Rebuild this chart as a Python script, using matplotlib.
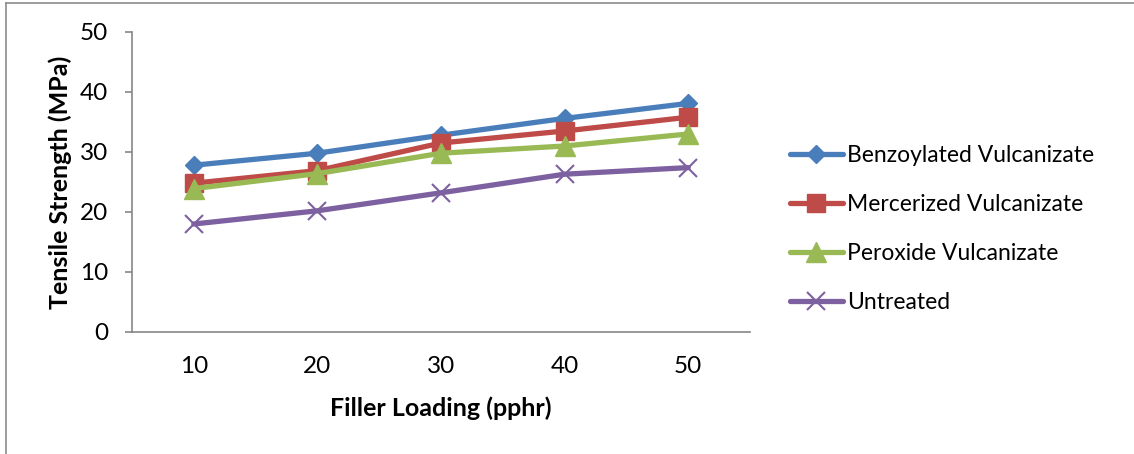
import matplotlib
matplotlib.use('Agg')
import matplotlib.pyplot as plt
from matplotlib.lines import Line2D

plt.rcParams['font.family'] = ['Lato', 'DejaVu Sans']

loading = ['10', '20', '30', '40', '50']
benzoylated = [27.8, 29.8, 32.8, 35.6, 38.1]
mercerized = [24.8, 26.9, 31.5, 33.5, 35.8]
peroxide = [23.9, 26.4, 29.8, 31.0, 33.0]
untreated = [18.0, 20.2, 23.2, 26.3, 27.4]

series = [
    ('Benzoylated Vulcanizate', benzoylated, '#4A7EBB', 'D', 9.5),
    ('Mercerized Vulcanizate', mercerized, '#BE4B48', 's', 13),
    ('Peroxide Vulcanizate', peroxide, '#98B954', '^', 14),
    ('Untreated', untreated, '#7D60A0', 'x', 13),
]

fig = plt.figure(figsize=(11.34, 4.54), dpi=100)
ax = fig.add_axes([132 / 1134, 1 - 332 / 454, 618 / 1134, 300 / 454])

pos = range(len(loading))
for name, vals, col, mk, ms in series:
    if mk == 'x':
        ax.plot(pos, vals, color=col, lw=3.8, marker=mk, ms=ms, mew=1.5,
                solid_capstyle='round', label=name)
    else:
        ax.plot(pos, vals, color=col, lw=3.8, marker=mk, ms=ms,
                solid_capstyle='round', label=name)

ax.set_xlim(-0.5, len(loading) - 0.5)
ax.set_ylim(0, 50)
ax.set_yticks([0, 10, 20, 30, 40, 50])
ax.set_xticks(list(pos))
ax.set_xticklabels(loading)

for s in ['top', 'right']:
    ax.spines[s].set_visible(False)
for s in ['left', 'bottom']:
    ax.spines[s].set_color('#868686')
    ax.spines[s].set_linewidth(1.2)

ax.tick_params(axis='y', length=5, width=1.2, color='#868686', pad=12, labelsize=17.5)
ax.tick_params(axis='x', length=0, pad=17, labelsize=17.5)

ax.set_ylabel('Tensile Strength (MPa)', fontsize=18, fontweight='bold', va='center')
ax.yaxis.set_label_coords(-0.1165, 0.5)
ax.set_xlabel('Filler Loading (pphr)', fontsize=18, fontweight='bold', va='center')
ax.xaxis.set_label_coords(0.5, -0.2533)

fig.legend(loc='center left', bbox_to_anchor=(790 / 1134, 1 - 229 / 454),
           frameon=False, fontsize=16.5, handlelength=2.3, handletextpad=0.2,
           labelspacing=1.22, borderpad=0, borderaxespad=0)

# chart border (top and left edges visible)
fig.add_artist(Line2D([6 / 1134, 1], [1 - 3 / 454, 1 - 3 / 454], color='#8c8c8c', lw=1.2,
                      transform=fig.transFigure))
fig.add_artist(Line2D([6 / 1134, 6 / 1134], [0, 1 - 3 / 454], color='#8c8c8c', lw=1.2,
                      transform=fig.transFigure))

fig.savefig('out.png', dpi=100)
